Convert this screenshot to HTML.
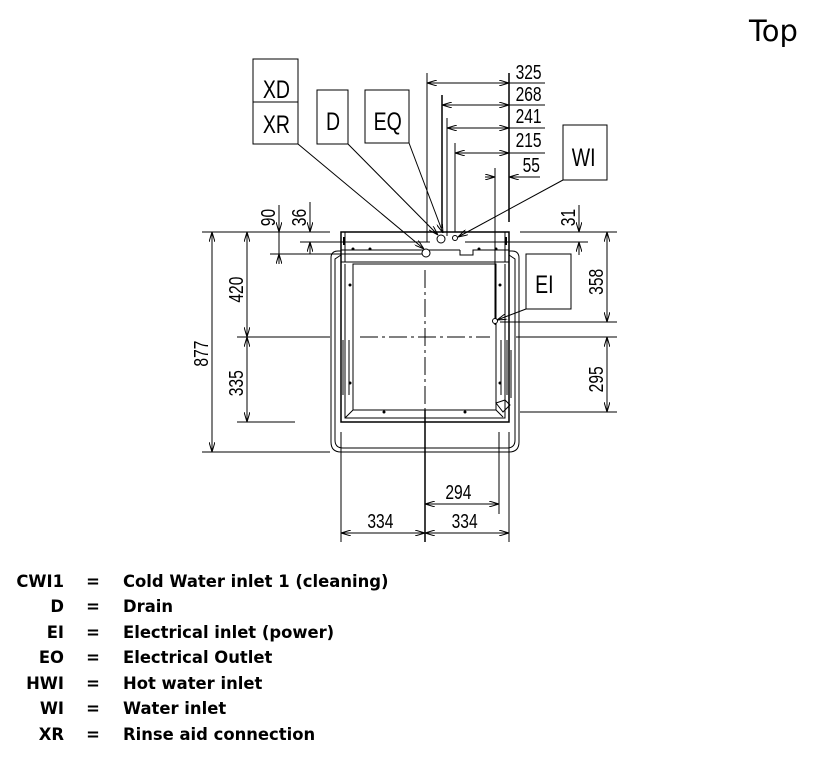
<!DOCTYPE html>
<html><head><meta charset="utf-8"><style>
html,body{margin:0;padding:0;background:#fff;width:815px;height:759px;overflow:hidden}
svg{display:block}
.d{font-family:"Liberation Sans",sans-serif;font-size:20px}
.lg{font-family:"DejaVu Sans","Liberation Sans",sans-serif;font-size:16.4px;font-weight:bold}
</style></head><body>
<svg width="815" height="759" viewBox="0 0 815 759" xmlns="http://www.w3.org/2000/svg">
<defs>
<marker id="a" viewBox="0 0 10 6" refX="10" refY="3" markerWidth="10" markerHeight="6" orient="auto-start-reverse" markerUnits="userSpaceOnUse"><path d="M0,0 L10,3 L0,6" fill="none" stroke="#000" stroke-width="1"/></marker>
</defs>
<text x="749" y="41" font-family="'DejaVu Sans','Liberation Sans',sans-serif" font-size="29">Top</text>
<g stroke="#000" stroke-width="1" fill="none">
<rect x="253" y="59" width="45" height="85"/><line x1="253" y1="102" x2="298" y2="102"/>
<rect x="317" y="90" width="31" height="54"/>
<rect x="365" y="90" width="44" height="53"/>
<rect x="563" y="125" width="44" height="55"/>
<rect x="526" y="254" width="45" height="55"/>
<line x1="298" y1="144" x2="424" y2="249" marker-end="url(#a)"/>
<line x1="348" y1="144" x2="438" y2="235" marker-end="url(#a)"/>
<line x1="409" y1="143" x2="443" y2="233" marker-end="url(#a)"/>
<line x1="563" y1="180" x2="458" y2="237" marker-end="url(#a)"/>
<line x1="526" y1="309" x2="497" y2="320" marker-end="url(#a)"/>
<line x1="509" y1="73" x2="509" y2="222" stroke-width="1.5"/>
<line x1="427" y1="73" x2="427" y2="242"/>
<line x1="442" y1="95" x2="442" y2="228" stroke-width="1.5"/>
<line x1="447" y1="118" x2="447" y2="236"/>
<line x1="455" y1="143" x2="455" y2="232"/>
<line x1="495" y1="168" x2="495" y2="325"/>
<line x1="427" y1="83" x2="509" y2="83" marker-start="url(#a)" marker-end="url(#a)"/><line x1="509" y1="83" x2="545" y2="83"/>
<line x1="442" y1="105" x2="509" y2="105" marker-start="url(#a)" marker-end="url(#a)"/><line x1="509" y1="105" x2="545" y2="105"/>
<line x1="447" y1="128" x2="509" y2="128" marker-start="url(#a)" marker-end="url(#a)"/><line x1="509" y1="128" x2="545" y2="128"/>
<line x1="455" y1="153" x2="509" y2="153" marker-start="url(#a)" marker-end="url(#a)"/><line x1="509" y1="153" x2="545" y2="153"/>
<line x1="485" y1="177" x2="495" y2="177" marker-end="url(#a)"/><line x1="540" y1="177" x2="509" y2="177" marker-end="url(#a)"/>
<line x1="202" y1="232" x2="330" y2="232"/><line x1="520" y1="232" x2="617" y2="232"/>
<line x1="300" y1="242" x2="430" y2="242"/><line x1="465" y1="242" x2="588" y2="242"/>
<line x1="270" y1="254" x2="425" y2="254"/>
<line x1="500" y1="322" x2="617" y2="322"/>
<line x1="237" y1="337" x2="330" y2="337"/><line x1="516" y1="337" x2="617" y2="337"/>
<line x1="520" y1="412" x2="617" y2="412"/>
<line x1="237" y1="422" x2="295" y2="422"/>
<line x1="202" y1="452" x2="330" y2="452"/>
<line x1="212" y1="232" x2="212" y2="452" marker-start="url(#a)" marker-end="url(#a)"/>
<line x1="247" y1="232" x2="247" y2="337" marker-start="url(#a)" marker-end="url(#a)"/>
<line x1="247" y1="337" x2="247" y2="422" marker-start="url(#a)" marker-end="url(#a)"/>
<line x1="279" y1="205" x2="279" y2="232" marker-end="url(#a)"/><line x1="279" y1="264" x2="279" y2="254" marker-end="url(#a)"/><line x1="279" y1="232" x2="279" y2="254"/>
<line x1="310" y1="202" x2="310" y2="232" marker-end="url(#a)"/><line x1="310" y1="254" x2="310" y2="242" marker-end="url(#a)"/>
<line x1="579" y1="205" x2="579" y2="232" marker-end="url(#a)"/><line x1="579" y1="255" x2="579" y2="242" marker-end="url(#a)"/>
<line x1="607" y1="232" x2="607" y2="322" marker-start="url(#a)" marker-end="url(#a)"/>
<line x1="607" y1="337" x2="607" y2="412" marker-start="url(#a)" marker-end="url(#a)"/>
<line x1="341" y1="432" x2="341" y2="542"/>
<line x1="509" y1="432" x2="509" y2="542"/>
<line x1="499" y1="432" x2="499" y2="514"/>
<line x1="425" y1="410" x2="425" y2="542" stroke-width="1.5"/>
<line x1="425" y1="504" x2="499" y2="504" marker-start="url(#a)" marker-end="url(#a)"/>
<line x1="341" y1="533" x2="425" y2="533" marker-start="url(#a)" marker-end="url(#a)"/>
<line x1="425" y1="533" x2="509" y2="533" marker-start="url(#a)" marker-end="url(#a)"/>
<path d="M341,251 L338,251 Q331,251 331,258 L331,442 Q331,452 341,452 L509,452 Q519,452 519,442 L519,258 Q519,251 512,251 L509,251"/>
<path d="M341,255 L335,259 L335,440 Q335,448 343,448 L507,448 Q515,448 515,440 L515,259 L509,255"/>
<rect x="341" y="232" width="168" height="190" stroke-width="1.5"/>
<line x1="341" y1="262" x2="509" y2="262"/>
<line x1="341" y1="250" x2="460" y2="250"/><path d="M460,250 L460,255 L473,255 L473,250 L509,250"/>
<line x1="345" y1="232" x2="345" y2="262"/><line x1="505" y1="232" x2="505" y2="262"/>
<rect x="353" y="264" width="143" height="146"/>
<path d="M345,264 L345,418 L505,418 L505,264"/>
<path d="M345,418 L353,410 M496,410 L503,417"/>
<path d="M343,340 L343,395 M507,340 L507,395 M349,340 L349,395 M501,340 L501,395"/>
<path d="M496,403 L503,412 L510,405 L505,400 Z"/>
<line x1="511" y1="350" x2="511" y2="398"/>
<line x1="360" y1="337" x2="490" y2="337" stroke-dasharray="18,4,3,4"/>
<line x1="425" y1="270" x2="425" y2="410" stroke-dasharray="18,4,3,4"/>
<circle cx="426" cy="253" r="4" fill="#fff"/>
<circle cx="441" cy="239" r="4" fill="#fff"/>
<circle cx="455" cy="238" r="2.5" fill="#fff"/>
<circle cx="495" cy="321" r="2.5" fill="#fff"/>
</g>
<g fill="#000">
<rect x="343" y="237" width="2" height="8"/><rect x="505" y="237" width="2" height="8"/>
<circle cx="353" cy="249" r="1.5"/><circle cx="370" cy="249" r="1.5"/><circle cx="479" cy="249" r="1.5"/><circle cx="496" cy="249" r="1.5"/>
<circle cx="350" cy="285" r="1.5"/><circle cx="500" cy="285" r="1.5"/><circle cx="350" cy="383" r="1.5"/><circle cx="500" cy="383" r="1.5"/>
<circle cx="384" cy="412" r="1.5"/><circle cx="465" cy="412" r="1.5"/>
</g>
<g class="d">
<g transform="scale(0.78,1)">
<text x="337" y="98" font-size="25">XD</text>
<text x="337" y="133" font-size="25">XR</text>
<text x="418" y="130" font-size="25">D</text>
<text x="479" y="130" font-size="25">EQ</text>
<text x="733" y="166" font-size="25">WI</text>
<text x="686" y="293" font-size="25">EI</text>
<text x="661" y="79">325</text>
<text x="661" y="101">268</text>
<text x="661" y="123">241</text>
<text x="661" y="147">215</text>
<text x="670" y="172">55</text>
<text x="571" y="499">294</text>
<text x="471" y="528">334</text>
<text x="579" y="528">334</text>
</g>
<g transform="scale(1,0.78)">
<text transform="translate(208,470) rotate(-90)">877</text>
<text transform="translate(243,388) rotate(-90)">420</text>
<text transform="translate(243,508) rotate(-90)">335</text>
<text transform="translate(275,290) rotate(-90)">90</text>
<text transform="translate(306,290) rotate(-90)">36</text>
<text transform="translate(575,290) rotate(-90)">31</text>
<text transform="translate(603,378) rotate(-90)">358</text>
<text transform="translate(603,503) rotate(-90)">295</text>
</g>
</g>
<g class="lg">
<g text-anchor="end">
<text x="64" y="587">CWI1</text><text x="64" y="612">D</text><text x="64" y="638">EI</text><text x="64" y="663">EO</text><text x="64" y="689">HWI</text><text x="64" y="714">WI</text><text x="64" y="740">XR</text>
</g>
<g text-anchor="middle">
<text x="93" y="587">=</text><text x="93" y="612">=</text><text x="93" y="638">=</text><text x="93" y="663">=</text><text x="93" y="689">=</text><text x="93" y="714">=</text><text x="93" y="740">=</text>
</g>
<text x="123" y="587">Cold Water inlet 1 (cleaning)</text>
<text x="123" y="612">Drain</text>
<text x="123" y="638">Electrical inlet (power)</text>
<text x="123" y="663">Electrical Outlet</text>
<text x="123" y="689">Hot water inlet</text>
<text x="123" y="714">Water inlet</text>
<text x="123" y="740">Rinse aid connection</text>
</g>
</svg>
</body></html>
